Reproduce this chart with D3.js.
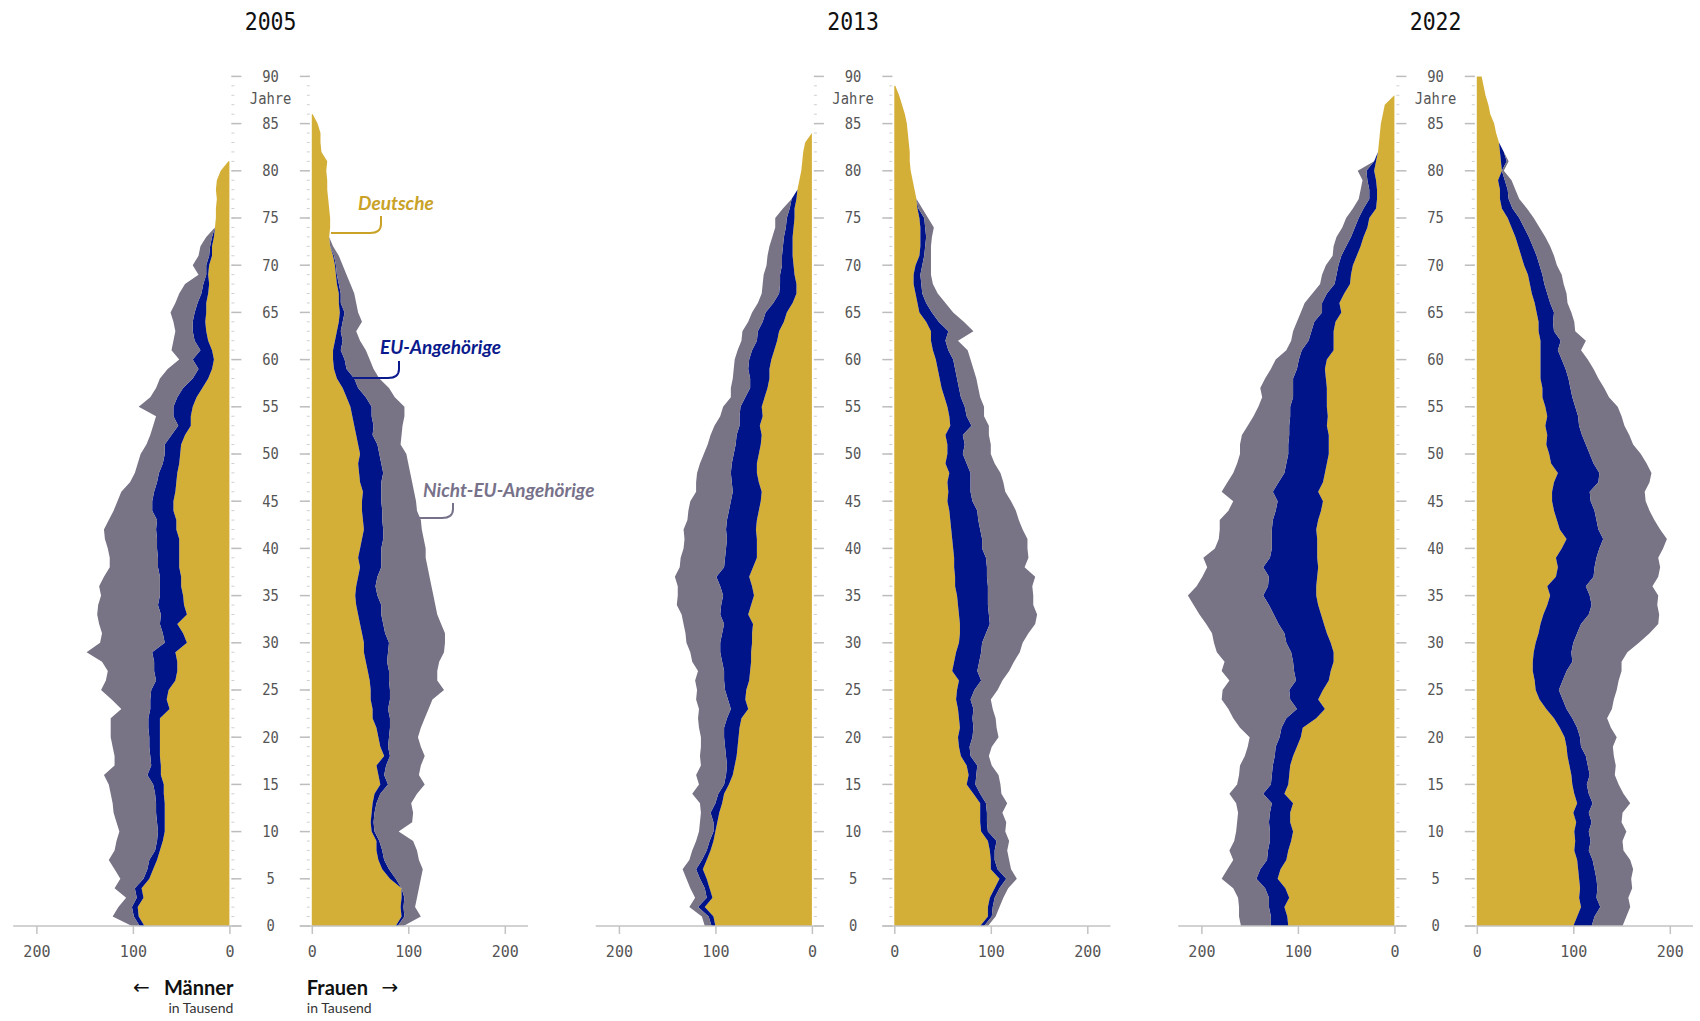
<!DOCTYPE html>
<html lang="de">
<head>
<meta charset="utf-8">
<title>Bevölkerung nach Alter und Staatsangehörigkeit</title>
<script src="https://cdn.jsdelivr.net/npm/d3@7"></script>
<style>
  body { margin: 0; background: #fff; }
  .mono { font-family: "DejaVu Sans Mono", monospace; }
  .sans { font-family: Lato, "Noto Sans", sans-serif; }
</style>
</head>
<body>
<svg id="chart" width="1700" height="1021"></svg>
<script>
// Jahre (Panels) und Achsen
var years = ["2005", "2013", "2022"];
var ageTicks = [0, 5, 10, 15, 20, 25, 30, 35, 40, 45, 50, 55, 60, 65, 70, 75, 80, 85, 90];
var valueTicks = [0, 100, 200];
var seriesNames = ["Deutsche", "EU-Angehörige", "Nicht-EU-Angehörige"];

// Werte in Tausend, Index = Alter in Jahren
var maenner2005Deutsche = [88,94,95,89,91,83,79,75,72,69, 67,67,67,67,68,68,71,71,72,72, 72,72,72,62,65,63,56,54,54,56, 44,48,54,44,47,48,50,50,52,52, 52,52,55,55,58,58,56,55,54,52, 51,50,46,40,40,38,34,28,22,18, 16,18,22,24,25,24,24,22,21,22, 21,18,18,16,15,14,14,13,14,13, 9,1];
var maenner2005EU = [5,5,6,7,7,6,6,8,5,6, 7,8,9,9,9,11,14,10,10,11, 11,12,12,20,17,18,20,24,24,24, 23,21,18,27,27,24,22,22,22,22, 23,23,21,20,22,22,22,20,19,17, 16,17,14,13,18,20,20,20,16,14, 22,12,14,14,13,12,9,7,6,2, 3,3,2,2];
var maenner2005NichtEU = [8,22,14,11,21,24,34,42,42,42, 40,42,44,45,46,46,45,38,37,38, 40,39,39,30,40,52,52,48,54,68, 67,63,63,66,62,61,63,58,50,50, 51,54,54,50,40,36,34,28,25,26, 25,19,22,26,18,36,28,28,34,32, 14,30,22,18,20,25,23,23,19,8, 14,11,10,6];
var frauen2005Deutsche = [87,93,92,93,93,81,73,69,67,67, 62,61,62,63,65,71,69,67,75,71, 69,67,63,63,61,61,60,58,56,54, 54,52,50,48,46,45,46,48,50,48, 50,52,54,53,52,52,53,50,49,48, 50,48,46,44,42,40,36,32,26,23, 22,22,24,26,28,29,28,28,26,25, 24,22,19,18,19,19,18,17,16,16, 15,16,10,9,9,6,1];
var frauen2005EU = [2,3,3,3,0,6,7,6,6,3, 3,3,3,4,6,8,6,10,6,8, 11,14,18,16,20,20,20,22,22,25, 26,24,24,24,26,23,20,20,22,24, 22,22,20,20,21,20,19,22,25,24, 20,20,17,20,20,22,20,16,18,13, 12,8,8,4,4,5,2,2,2,1, 1,1];
var frauen2005NichtEU = [6,17,12,13,18,26,35,36,36,35, 25,40,40,36,38,38,36,36,36,34, 30,32,36,42,44,56,50,50,54,58, 58,62,60,58,56,58,58,54,48,46, 46,42,40,40,36,36,34,32,28,28, 28,24,30,30,34,34,30,32,26,28, 26,26,18,16,20,14,16,14,12,10, 7,5,3];

var maenner2013Deutsche = [100,102,111,103,106,109,113,109,105,102, 100,98,96,93,91,86,82,80,78,77, 76,75,73,66,69,68,65,64,63,63, 62,62,61,66,63,60,62,65,61,57, 57,57,58,57,55,53,52,55,57,57, 55,53,52,54,51,52,49,46,44,44, 42,39,36,34,29,26,20,16,16,18, 19,20,20,20,19,18,18,16,15,13, 11,10,9,7,0];
var maenner2013EU = [4,5,7,6,5,7,7,5,4,4, 2,4,9,7,6,5,7,8,11,13, 15,16,15,18,18,22,26,27,30,32, 33,31,30,29,31,32,33,34,30,33, 32,31,31,31,31,31,30,28,27,26, 26,26,26,21,24,22,20,18,20,22, 23,23,21,22,22,22,20,18,17,15, 12,11,10,9,8,8,5,5];
var maenner2013NichtEU = [7,7,9,12,15,14,14,13,15,14, 15,14,10,16,27,26,31,27,27,25, 24,26,30,33,33,29,30,27,31,31, 35,38,42,40,46,47,44,43,46,46, 44,44,44,41,42,42,38,37,35,33, 31,29,27,26,20,18,15,20,18,15, 15,15,16,16,15,14,16,18,18,17, 16,15,14,12,11,12,7];
var frauen2013Deutsche = [89,97,97,99,104,109,100,100,99,97, 90,89,89,89,82,75,77,75,69,67, 66,68,67,66,64,65,67,60,62,64, 67,68,68,67,66,65,63,63,62,62, 61,60,59,58,57,55,56,55,57,53, 55,55,53,58,57,55,52,49,47,45, 43,40,38,38,33,26,24,22,20,20, 22,26,27,27,27,26,24,23,21,19, 17,16,16,15,14,13,11,8,5,1];
var frauen2013EU = [4,4,5,5,5,7,7,4,5,9, 7,7,7,6,7,9,8,11,10,11, 15,14,14,16,15,18,23,26,26,26, 24,27,31,31,31,32,34,33,34,33, 30,31,30,29,29,26,23,24,22,22, 16,18,18,22,18,18,17,18,18,18, 18,16,15,18,13,13,9,7,8,7, 7,5,5,6,5,5,1];
var frauen2013NichtEU = [4,4,7,9,9,11,14,15,13,13, 18,20,16,22,22,26,23,15,19,23, 27,24,24,20,21,24,22,33,36,40, 42,44,47,50,47,47,46,50,39,44, 47,47,44,42,40,40,36,34,31,29, 29,27,27,18,18,20,20,20,20,19, 18,20,13,26,26,22,20,16,12,11, 9,7,6,6,9,4,4];

var maenner2022Deutsche = [110,111,114,109,113,121,118,112,110,107, 105,108,108,105,114,110,109,108,105,101, 97,95,81,72,79,74,68,66,63,63, 66,70,73,76,79,81,81,80,79,80, 80,80,81,79,76,74,79,74,72,70, 68,68,68,70,69,70,70,70,71,72, 70,63,63,63,61,55,57,52,46,45, 43,39,35,32,28,26,19,18,18,19, 21,19,17,16,15,14,12,10,0];
var maenner2022EU = [18,17,16,21,21,22,21,20,21,22, 24,22,21,22,22,18,18,18,19,22, 22,22,31,29,29,35,34,38,42,44, 46,44,47,49,51,55,50,50,57,49, 47,47,46,47,47,47,47,46,42,42, 42,42,41,39,39,38,35,35,34,29, 29,33,26,23,22,20,18,18,16,15, 15,16,15,13,13,11,13,8,8,9, 8,2];
var maenner2022NichtEU = [31,33,31,32,33,36,34,35,40,37, 35,33,33,37,35,35,34,34,31,29, 31,43,55,71,71,69,69,75,71,77, 75,75,75,77,78,78,74,69,58,69, 59,55,54,55,49,46,53,53,53,51, 50,50,49,43,38,33,32,34,29,27, 24,16,18,19,18,22,18,15,15,15, 13,9,13,15,13,13,11,11,9,5, 9];
var frauen2022Deutsche = [100,104,108,106,107,106,105,104,101,102, 101,103,100,104,101,99,98,96,94,93, 91,86,80,72,65,61,60,58,58,59, 61,64,66,69,73,76,73,82,84,82, 88,93,86,83,80,78,78,80,84,77, 75,72,73,71,73,71,68,68,66,66, 66,66,66,64,64,62,60,57,55,53, 49,46,43,40,36,32,26,24,24,22, 26,25,24,23,20,18,14,12,9,7, 5];
var frauen2022EU = [19,18,20,18,18,18,17,16,15,16, 15,16,16,16,15,15,19,19,19,15, 16,18,19,21,24,24,29,35,41,39, 39,40,42,47,46,41,40,39,38,42, 39,38,40,41,42,40,39,46,43,44, 42,41,36,35,32,31,31,29,29,26, 22,18,21,16,15,18,16,16,15,15, 16,16,15,14,13,12,11,9,8,7, 0,6,4];
var frauen2022NichtEU = [32,33,31,33,36,36,40,39,36,33, 39,31,35,39,36,33,26,29,29,33, 38,35,36,47,53,60,58,57,51,58, 68,75,80,73,68,71,69,67,68,64, 66,66,64,60,57,57,57,53,54,55, 53,49,49,47,45,44,38,35,31,29, 27,24,26,22,22,18,18,20,20,20, 18,18,18,17,16,15,15,11,8,7, 2,2];

var colors = ["#d4af37", "#001489", "#787385"];
var labelColors = ["#c9a227", "#0a1a8c", "#77728a"];

var panels = [
  { year: years[0], men: [maenner2005Deutsche, maenner2005EU, maenner2005NichtEU], women: [frauen2005Deutsche, frauen2005EU, frauen2005NichtEU] },
  { year: years[1], men: [maenner2013Deutsche, maenner2013EU, maenner2013NichtEU], women: [frauen2013Deutsche, frauen2013EU, frauen2013NichtEU] },
  { year: years[2], men: [maenner2022Deutsche, maenner2022EU, maenner2022NichtEU], women: [frauen2022Deutsche, frauen2022EU, frauen2022NichtEU] }
];

var svg = d3.select("#chart");
var keys = ["de", "eu", "non"];
var pxPerUnit = 0.965, halfGap = 41.2, maxVal = 224;

var y = d3.scaleLinear().domain([0, 90]).range([926, 76.4]);

function toRows(list) {
  return d3.range(list[0].length).map(function (a) {
    return { age: a, de: list[0][a] || 0, eu: list[1][a] || 0, non: list[2][a] || 0 };
  });
}

function drawSide(g, list, x) {
  var layers = d3.stack().keys(keys)(toRows(list));
  layers.forEach(function (layer, k) {
    var last = list[k].length;
    var area = d3.area()
      .defined(function (d) { return d.data.age <= last; })
      .y(function (d) { return y(d.data.age); })
      .x0(function (d) { return x(d[0]); })
      .x1(function (d) { return x(d[1]); });
    g.append("path").attr("d", area(layer)).attr("fill", colors[k]);
  });
}

panels.forEach(function (p, i) {
  var cx = 270.6 + i * 582.5;
  var zeroL = cx - halfGap, zeroR = cx + halfGap;
  var xL = d3.scaleLinear().domain([0, maxVal]).range([zeroL, zeroL - maxVal * pxPerUnit]);
  var xR = d3.scaleLinear().domain([0, maxVal]).range([zeroR, zeroR + maxVal * pxPerUnit]);
  var g = svg.append("g");

  // Titel
  g.append("text").attr("class", "mono")
    .attr("transform", "translate(" + cx + ",29.5) scale(0.86,1)")
    .attr("text-anchor", "middle").attr("font-size", 25).attr("fill", "#111")
    .text(p.year);

  drawSide(g.append("g"), p.men, xL);
  drawSide(g.append("g"), p.women, xR);

  // Altersachse
  var minor = d3.range(0, 91);
  g.selectAll(".minl").data(minor).join("line")
    .attr("x1", zeroL + 2).attr("x2", zeroL + 5)
    .attr("y1", function (d) { return y(d); }).attr("y2", function (d) { return y(d); })
    .attr("stroke", "#cfcfcf").attr("stroke-width", 1);
  g.selectAll(".minr").data(minor).join("line")
    .attr("x1", zeroR - 5).attr("x2", zeroR - 2)
    .attr("y1", function (d) { return y(d); }).attr("y2", function (d) { return y(d); })
    .attr("stroke", "#cfcfcf").attr("stroke-width", 1);
  ageTicks.forEach(function (t) {
    g.append("line").attr("x1", zeroL + 2).attr("x2", zeroL + 12)
      .attr("y1", y(t)).attr("y2", y(t)).attr("stroke", "#bdbdbd").attr("stroke-width", 1.5);
    g.append("line").attr("x1", zeroR - 12).attr("x2", zeroR - 2)
      .attr("y1", y(t)).attr("y2", y(t)).attr("stroke", "#bdbdbd").attr("stroke-width", 1.5);
    g.append("text").attr("class", "mono")
      .attr("transform", "translate(" + cx + "," + y(t) + ") scale(0.92,1)")
      .attr("text-anchor", "middle").attr("dy", "0.36em")
      .attr("font-size", 15).attr("fill", "#555").text(t);
  });
  g.append("text").attr("class", "mono")
    .attr("transform", "translate(" + cx + "," + (y(90) + 22) + ") scale(0.92,1)")
    .attr("text-anchor", "middle").attr("dy", "0.36em")
    .attr("font-size", 15).attr("fill", "#555").text("Jahre");

  // Werteachsen unten
  [[xL, zeroL + 12, xL(maxVal)], [xR, zeroR - 12, xR(maxVal)]].forEach(function (a) {
    g.append("line").attr("x1", a[1]).attr("x2", a[2]).attr("y1", 926).attr("y2", 926)
      .attr("stroke", "#c3c3c3").attr("stroke-width", 1.5);
    var ax = g.append("g").attr("transform", "translate(0,926)")
      .call(d3.axisBottom(a[0]).tickValues(valueTicks).tickSize(8).tickPadding(12));
    ax.select(".domain").remove();
    ax.selectAll(".tick line").attr("stroke", "#c3c3c3").attr("stroke-width", 1.5);
    ax.selectAll(".tick text").attr("class", "mono").attr("font-size", 15).attr("fill", "#555");
  });

  if (i === 0) {
    // Beschriftung Männer / Frauen
    g.append("text").attr("x", zeroL - 88).attr("y", 994).attr("text-anchor", "middle")
      .attr("font-family", "DejaVu Sans").attr("font-size", 20).attr("fill", "#111").text("←");
    g.append("text").attr("class", "sans").attr("x", zeroL + 4).attr("y", 995).attr("text-anchor", "end")
      .attr("font-size", 20).attr("font-weight", 700).attr("fill", "#111").text("Männer");
    g.append("text").attr("class", "sans").attr("x", zeroL + 4).attr("y", 1013).attr("text-anchor", "end")
      .attr("font-size", 14).attr("fill", "#333").text("in Tausend");
    g.append("text").attr("class", "sans").attr("x", zeroR - 5).attr("y", 995)
      .attr("font-size", 20).attr("font-weight", 700).attr("fill", "#111").text("Frauen");
    g.append("text").attr("x", zeroR + 78).attr("y", 994).attr("text-anchor", "middle")
      .attr("font-family", "DejaVu Sans").attr("font-size", 20).attr("fill", "#111").text("→");
    g.append("text").attr("class", "sans").attr("x", zeroR - 5).attr("y", 1013)
      .attr("font-size", 14).attr("fill", "#333").text("in Tausend");

    // Reihenbeschriftungen mit Hinweislinien
    var notes = [
      { k: 0, tx: 358, ty: 210, lx: 381, ly1: 216, ly2: 233, ex: 331 },
      { k: 1, tx: 380, ty: 354, lx: 399, ly1: 361, ly2: 378, ex: 350 },
      { k: 2, tx: 423, ty: 497, lx: 453, ly1: 503, ly2: 518, ex: 415 }
    ];
    notes.forEach(function (n) {
      g.append("text").attr("class", "sans").attr("x", n.tx).attr("y", n.ty)
        .attr("font-size", 19).attr("font-weight", 700).attr("font-style", "italic")
        .attr("fill", labelColors[n.k]).text(seriesNames[n.k]);
      var path = d3.path();
      path.moveTo(n.lx, n.ly1);
      path.lineTo(n.lx, n.ly2 - 9);
      path.quadraticCurveTo(n.lx, n.ly2, n.lx - 11, n.ly2);
      path.lineTo(n.ex, n.ly2);
      g.append("path").attr("d", path.toString()).attr("fill", "none")
        .attr("stroke", labelColors[n.k]).attr("stroke-width", 2);
    });
  }
});
</script>
</body>
</html>
